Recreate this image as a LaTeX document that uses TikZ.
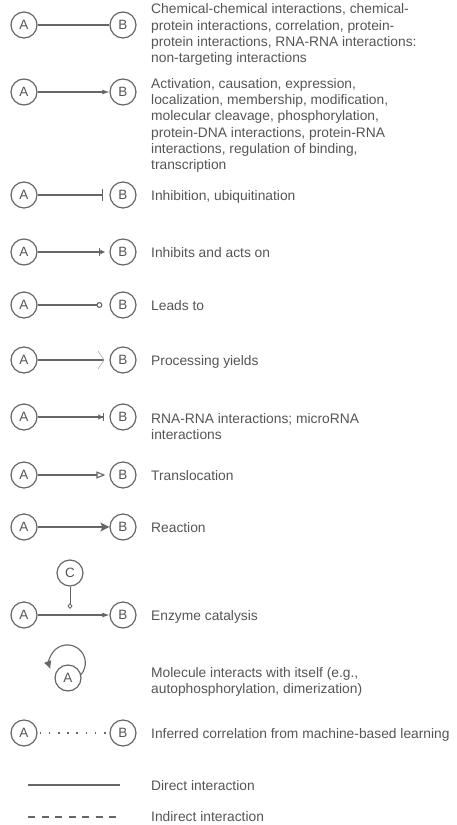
\documentclass[tikz,border=0pt]{standalone}
\usepackage{fontspec}
\setmainfont{Liberation Sans}
\usetikzlibrary{arrows.meta,positioning}
\definecolor{ink}{HTML}{555555}
\definecolor{wire}{HTML}{666666}

\begin{document}
\begin{tikzpicture}[
  x=1pt,y=1pt,
  font=\fontsize{13.8}{16.3}\selectfont,text=ink,
  mol/.style={draw=wire,circle,line width=1.2pt,minimum size=26pt,inner sep=0pt,
              font=\fontsize{13.5}{13.5}\selectfont},
  txt/.style={anchor=base west,inner sep=0pt},
  txtm/.style={anchor=north west,inner sep=0pt,align=left},
  lnk/.style={draw=wire,line width=1.1pt}
]
\useasboundingbox (0,0) rectangle (456,-825);
% --- A/B pairs ---
\foreach \n/\y in {1/25,2/92,3/195,4/252,5/305,6/360,7/417,8/475,9/527,10/615,12/733}{
  \node[mol](a\n) at(24,-\y){A};
  \node[mol](b\n) at(123,-\y){B};
}
% --- connectors ---
\draw[lnk](a1)--(b1);
\draw[lnk,-{Latex[length=7pt,width=5pt]}](a2)--(b2);
\draw[lnk,-{Bar[width=12pt]},shorten >=6pt](a3)--(b3);
\draw[lnk,-{Bar[width=8pt]Latex[length=5pt,width=5pt]},shorten >=4pt](a4)--(b4);
\draw[lnk,-{Circle[open,length=6pt,width=6pt]},shorten >=7pt](a5)--(b5);
\draw[lnk,-{Straight Barb[length=6pt,width=18pt,line width=0.6pt,color=wire!60]},shorten >=5pt](a6)--(b6);
\draw[lnk,-{Latex[length=5pt,width=6pt]Bar[width=8pt]},shorten >=5pt](a7)--(b7);
\draw[lnk,-{Triangle[open,length=9pt,width=7pt]},shorten >=4pt](a8)--(b8);
\draw[lnk,-{Stealth[length=9pt,width=9pt,inset=2pt]}](a9)--(b9);
% --- enzyme ---
\node[mol](c10) at(70,-573){C};
\coordinate(cat) at(70,-609);
\draw[lnk,-{Latex[length=7pt,width=5pt]}](a10)--(b10);
\draw[lnk,line width=0.9pt,-{Diamond[open,length=6pt,width=5pt]}](c10)--(cat);
% --- self loop ---
\node[mol](self) at(68,-678){A};
\draw[lnk,-{Latex[length=8pt,width=8pt]}](self.15) arc[start angle=-40,end angle=200,radius=18];
% --- dotted ---
\draw[lnk,line width=2.2pt,dash pattern=on 1.6pt off 7.6pt,dash phase=-2pt](a12)--(b12);
% --- line styles ---
\coordinate(s1) at(28,-785); \coordinate(s2) at(120,-785);
\draw[lnk](s1)--(s2);
\coordinate(i1) at(28,-817); \coordinate(i2) at(120,-817);
\draw[lnk,dash pattern=on 7pt off 6.5pt](i1)--(i2);
% --- labels ---
\node[txtm](t1) at(151,-3.5){Chemical-chemical interactions, chemical-\\protein interactions, correlation, protein-\\protein interactions, RNA-RNA interactions:\\non-targeting interactions};
\node[txtm](t2) at(151,-78){Activation, causation, expression,\\localization, membership, modification,\\molecular cleavage, phosphorylation,\\protein-DNA interactions, protein-RNA\\interactions, regulation of binding,\\transcription};
\node[txt](t3) at(151,-200){Inhibition, ubiquitination};
\node[txt](t4) at(151,-257){Inhibits and acts on};
\node[txt](t5) at(151,-310){Leads to};
\node[txt](t6) at(151,-365){Processing yields};
\node[txtm](t7) at(151,-413){RNA-RNA interactions; microRNA\\interactions};
\node[txt](t8) at(151,-480){Translocation};
\node[txt](t9) at(151,-532){Reaction};
\node[txt](t10) at(151,-620){Enzyme catalysis};
\node[txtm](t11) at(151,-667){Molecule interacts with itself (e.g.,\\autophosphorylation, dimerization)};
\node[txt](t12) at(151,-738){Inferred correlation from machine-based learning};
\node[txt](t13) at(151,-790){Direct interaction};
\node[txt](t14) at(151,-821){Indirect interaction};
\end{tikzpicture}
\end{document}
